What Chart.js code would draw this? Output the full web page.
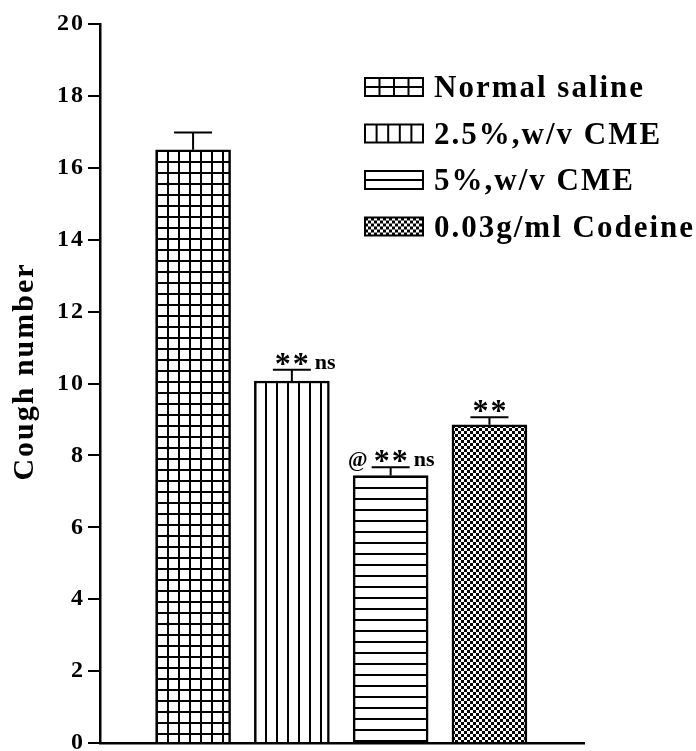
<!DOCTYPE html>
<html>
<head>
<meta charset="utf-8">
<script src="https://cdn.jsdelivr.net/npm/chart.js@4.4.0/dist/chart.umd.min.js"></script>
<style>
  html, body { margin: 0; padding: 0; background: #fff; }
  #wrap { width: 696px; height: 751px; }
</style>
</head>
<body>
<div id="wrap"><canvas id="myChart" width="696" height="751"></canvas></div>
<script>
// data
const groups = ['Normal saline', '2.5%,w/v CME', '5%,w/v CME', '0.03g/ml Codeine'];
const coughMean = [16.5, 10.07, 7.44, 8.85];
const coughErr = [0.48, 0.31, 0.23, 0.21];
const starMarks = ['', '**', '**', '**'];
const nsMarks = ['', 'ns', 'ns', ''];
const atMarks = ['', '', '@', ''];
const patternKinds = ['grid', 'vert', 'horiz', 'check'];

const FONT = '"Liberation Serif", "Times New Roman", serif';

function makeTile(kind) {
    const c = document.createElement('canvas');
    const size = kind === 'check' ? 6 : 11;
    c.width = size; c.height = size;
    const g = c.getContext('2d');
    g.fillStyle = '#fff';
    g.fillRect(0, 0, size, size);
    g.fillStyle = '#000';
    if (kind === 'grid') { g.fillRect(0, 0, size, 2); g.fillRect(0, 0, 2, size); }
    if (kind === 'vert') { g.fillRect(0, 0, 2, size); }
    if (kind === 'horiz') { g.fillRect(0, 0, size, 2); }
    if (kind === 'check') { g.fillRect(0, 0, 3, 3); g.fillRect(3, 3, 3, 3); }
    return c;
}

const ctx = document.getElementById('myChart').getContext('2d');
const patterns = patternKinds.map(k => ctx.createPattern(makeTile(k), 'repeat'));

// the original figure has slightly loose lettering
const spacing = {
    id: 'spacing',
    beforeUpdate(chart) { chart.ctx.letterSpacing = '2px'; },
    beforeDraw(chart) { chart.ctx.letterSpacing = '2px'; }
};

// line the hatching up with each bar's top-left corner
const patternAlign = {
    id: 'patternAlign',
    beforeDatasetsDraw(chart) {
        const meta = chart.getDatasetMeta(0);
        meta.data.forEach((bar, i) => {
            const left = Math.round(bar.x - bar.width / 2);
            patterns[i].setTransform(new DOMMatrix([1, 0, 0, 1, left, Math.round(bar.y)]));
        });
    }
};

// error bars + significance marks
const errorBars = {
    id: 'errorBars',
    afterDatasetsDraw(chart) {
        const c = chart.ctx;
        const xs = chart.scales.x, ys = chart.scales.y;
        c.save();
        c.strokeStyle = '#000';
        c.lineWidth = 2;
        coughMean.forEach((m, i) => {
            const x = xs.getPixelForValue(i);
            const y0 = ys.getPixelForValue(m);
            const y1 = ys.getPixelForValue(m + coughErr[i]);
            c.beginPath();
            c.moveTo(x, y0); c.lineTo(x, y1);
            c.moveTo(x - 19, y1); c.lineTo(x + 19, y1);
            c.stroke();

            c.fillStyle = '#000';
            c.textBaseline = 'alphabetic';
            if (starMarks[i]) {
                c.font = 'bold 32px ' + FONT;
                c.letterSpacing = '2px';
                c.textAlign = 'center';
                c.fillText(starMarks[i], x + 1, y1 + 4);
            }
            c.letterSpacing = '0px';
            if (nsMarks[i]) {
                c.font = 'bold 22px ' + FONT;
                c.textAlign = 'left';
                c.fillText(nsMarks[i], x + 23, y1 - 1);
            }
            if (atMarks[i]) {
                c.font = 'bold 21px ' + FONT;
                c.textAlign = 'right';
                c.fillText(atMarks[i], x - 23, y1 - 1);
            }
        });
        c.restore();
    }
};

// legend drawn as a column in the upper right
const patchLegend = {
    id: 'patchLegend',
    afterDraw(chart) {
        const c = chart.ctx;
        const px = 365, py = 78, rowH = 46.5, pw = 58, ph = 18;
        c.save();
        groups.forEach((label, i) => {
            const top = py + i * rowH;
            c.fillStyle = '#fff';
            c.fillRect(px, top, pw, ph);
            c.strokeStyle = '#000';
            c.lineWidth = 2;
            c.beginPath();
            const kind = patternKinds[i];
            if (kind === 'grid') {
                for (let k = 1; k < 4; k++) { c.moveTo(px + pw * k / 4, top); c.lineTo(px + pw * k / 4, top + ph); }
                c.moveTo(px, top + ph / 2); c.lineTo(px + pw, top + ph / 2);
            } else if (kind === 'vert') {
                for (let k = 1; k < 5; k++) { c.moveTo(px + pw * k / 5, top); c.lineTo(px + pw * k / 5, top + ph); }
            } else if (kind === 'horiz') {
                c.moveTo(px, top + ph / 2); c.lineTo(px + pw, top + ph / 2);
            } else {
                const chk = c.createPattern(makeTile('check'), 'repeat');
                chk.setTransform(new DOMMatrix([1, 0, 0, 1, px, top]));
                c.fillStyle = chk;
                c.fillRect(px, top, pw, ph);
            }
            c.stroke();
            c.strokeRect(px, top, pw, ph);

            c.fillStyle = '#000';
            c.font = 'bold 31px ' + FONT;
            c.letterSpacing = '2px';
            c.textAlign = 'left';
            c.textBaseline = 'alphabetic';
            c.fillText(label, 434, top + 19);
        });
        c.restore();
    }
};

const myChart = new Chart(ctx, {
    type: 'bar',
    data: {
        datasets: [{
            label: 'Cough number',
            data: coughMean.map((v, i) => ({ x: i, y: v })),
            backgroundColor: patterns,
            borderColor: '#000',
            borderWidth: 2.5,
            barThickness: 75
        }]
    },
    options: {
        responsive: false,
        animation: false,
        events: [],
        layout: { padding: { top: 24, right: 112, bottom: 8, left: 0 } },
        plugins: {
            legend: { display: false },
            tooltip: { enabled: false }
        },
        scales: {
            x: {
                type: 'linear',
                min: -0.67,
                max: 3.685,
                ticks: { display: false },
                grid: { display: false, drawTicks: false },
                border: { color: '#000', width: 2.5 }
            },
            y: {
                min: 0,
                max: 20,
                ticks: {
                    stepSize: 2,
                    color: '#000',
                    padding: 3,
                    font: { family: FONT, size: 24, weight: 'bold' }
                },
                grid: {
                    drawOnChartArea: false,
                    drawTicks: true,
                    tickLength: 12,
                    color: '#000',
                    lineWidth: 2
                },
                border: { color: '#000', width: 2.5 },
                title: {
                    display: true,
                    text: 'Cough number',
                    color: '#000',
                    padding: { top: 7, bottom: 0 },
                    font: { family: FONT, size: 30, weight: 'bold' }
                },
                afterFit(scale) {
                    scale.width = 100;
                    scale.paddingTop = 0;
                    scale.paddingBottom = 0;
                    // title sits a bit above the axis middle in the original
                    if (!scale._titleShifted) {
                        const drawTitle = scale.drawTitle.bind(scale);
                        scale.drawTitle = function () {
                            this.ctx.save();
                            this.ctx.translate(0, -12);
                            drawTitle();
                            this.ctx.restore();
                        };
                        scale._titleShifted = true;
                    }
                }
            }
        }
    },
    plugins: [spacing, patternAlign, errorBars, patchLegend]
});
</script>
</body>
</html>
